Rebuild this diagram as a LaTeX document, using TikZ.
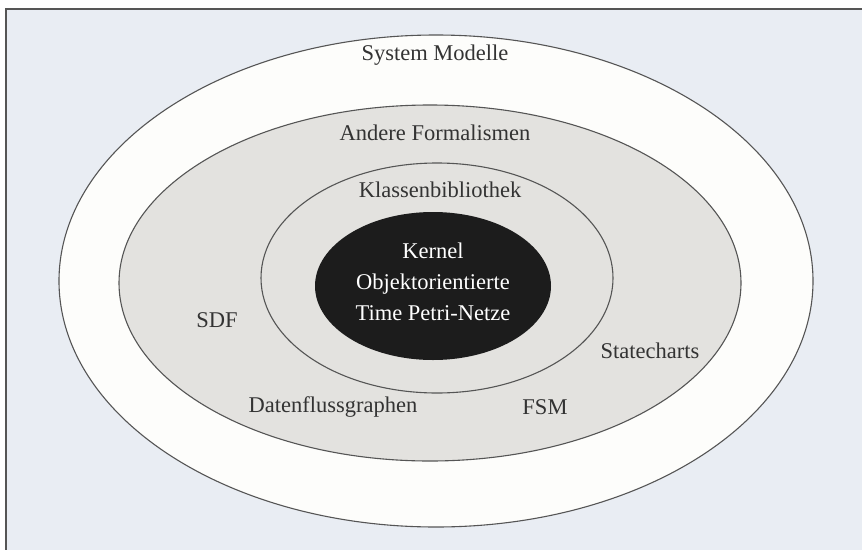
\documentclass[tikz,border=0pt]{standalone}
\usepackage{fontspec}
\setmainfont{Liberation Serif}
\usetikzlibrary{shapes.geometric}
\definecolor{bgblue}{HTML}{E9EDF3}
\definecolor{ringwhite}{HTML}{FDFDFB}
\definecolor{ringgray}{HTML}{E3E2DF}
\definecolor{coreblack}{HTML}{1C1C1C}
\definecolor{edge}{HTML}{555555}
\definecolor{txt}{HTML}{333333}
\tikzset{
  ring/.style={ellipse, draw=edge, line width=1.1pt, inner sep=0pt},
  lbl/.style={text=txt, inner sep=0pt, font=\fontsize{22.5}{27}\selectfont},
  corelbl/.style={text=white, inner sep=0pt, align=center, font=\fontsize{22.5}{31}\selectfont}
}
\begin{document}
\begin{tikzpicture}[x=1pt,y=-1pt]
\clip (0,0) rectangle (862,549);
\fill[white] (0,0) rectangle (862,549);
\draw[fill=bgblue, draw=edge, line width=1.3pt] (6,9) rectangle (870,560);
\node[ring, fill=ringwhite, minimum width=754pt, minimum height=492pt] (outer) at (436,281) {};
\node[ring, fill=ringgray, minimum width=622pt, minimum height=356pt] (formal) at (430,283) {};
\node[ring, fill=ringgray, minimum width=352pt, minimum height=230pt] (lib) at (437,278) {};
\node[ellipse, fill=coreblack, inner sep=0pt, minimum width=236pt, minimum height=148pt] (kernel) at (433,286) {};
\node[lbl] (sysm) at (435,55) {System Modelle};
\node[lbl] (andf) at (435,133) {Andere Formalismen};
\node[lbl] (klb) at (440,190) {Klassenbibliothek};
\node[corelbl] (ktxt) at (433,282) {Kernel\\Objektorientierte\\Time Petri-Netze};
\node[lbl] (sdf) at (217,320) {SDF};
\node[lbl] (stc) at (650,351) {Statecharts};
\node[lbl] (dfg) at (333,407) {Datenflussgraphen};
\node[lbl] (fsm) at (545,407) {FSM};
\end{tikzpicture}
\end{document}
